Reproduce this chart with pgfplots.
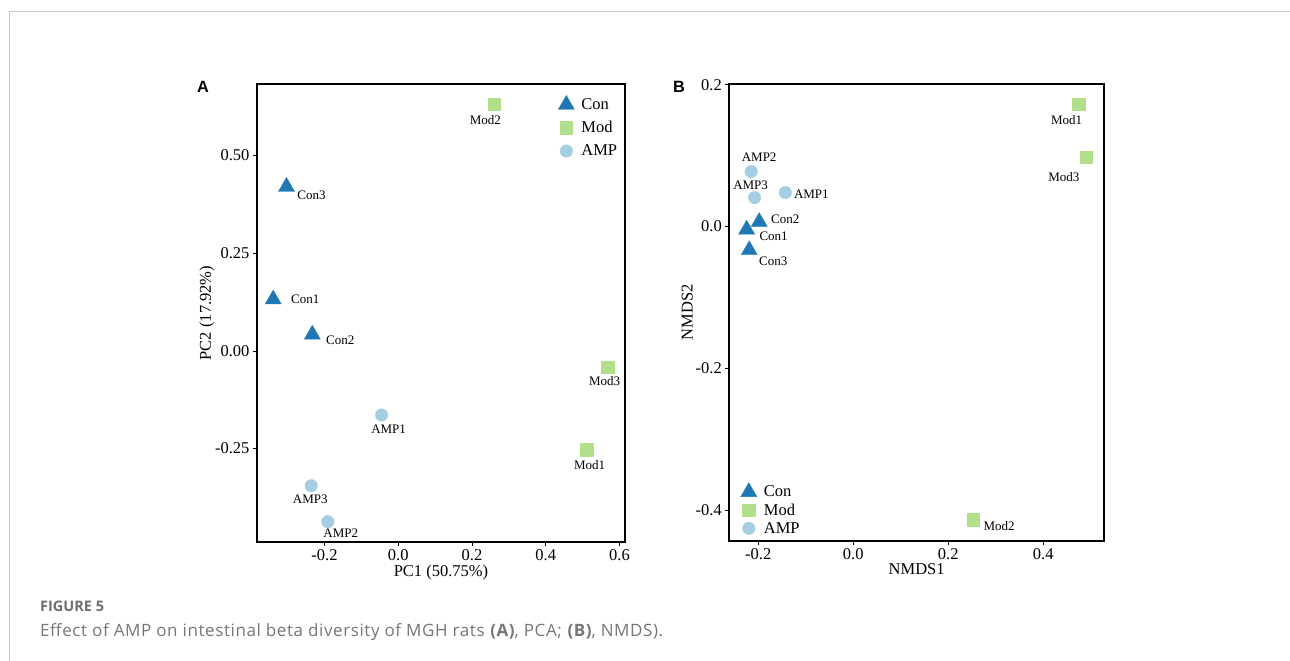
\documentclass[border=0pt]{standalone}
\usepackage{pgfplots}
\pgfplotsset{compat=1.18}
\usepackage{pgfplotstable}
\usepackage{fontspec}
\setmainfont{Liberation Serif}
\newfontfamily\capfont{Open Sans}
\newfontfamily\arialfont{Liberation Sans}
\definecolor{conc}{HTML}{1F78B4}
\definecolor{modc}{HTML}{B2DF8A}
\definecolor{ampc}{HTML}{A6CEE3}
\definecolor{framec}{RGB}{200,200,200}
\definecolor{capgray}{RGB}{110,110,110}
\definecolor{txtgray}{RGB}{118,118,118}
\newcommand\tickfont{\fontsize{16.5}{19}\selectfont}
\newcommand\legfont{\fontsize{16.5}{19}\selectfont}
\newcommand\ptfont{\fontsize{13}{15}\selectfont}

\pgfplotstableread{
x y label dx dy
-0.339 0.132 Con1 32 0
-0.233 0.042 Con2 28 -6
-0.303 0.420 Con3 25 -8
}\conA
\pgfplotstableread{
x y label dx dy
0.511 -0.253 Mod1 3 -15
0.2605 0.631 Mod2 -9 -16
0.568 -0.042 Mod3 -3 -14
}\modA
\pgfplotstableread{
x y label dx dy
-0.045 -0.164 AMP1 7 -14
-0.191 -0.437 AMP2 13 -12
-0.236 -0.345 AMP3 -1 -14
}\ampA
\pgfplotstableread{
x y label dx dy
-0.2245 -0.004 Con1 27 -7
-0.198 0.0066 Con2 26 3
-0.219 -0.033 Con3 24 -11
}\conB
\pgfplotstableread{
x y label dx dy
0.4745 0.1728 Mod1 -12 -16
0.2526 -0.413 Mod2 26 -6
0.490 0.0977 Mod3 -22 -20
}\modB
\pgfplotstableread{
x y label dx dy
-0.143 0.048 AMP1 26 -2
-0.215 0.0775 AMP2 8 14
-0.2077 0.041 AMP3 -4 12
}\ampB

\pgfplotsset{
  pcastyle/.style={
    scale only axis,
    clip=false,
    axis line style={line width=2.2pt},
    tick align=outside,
    xtick pos=bottom, ytick pos=left,
    major tick length=4pt,
    tick style={black, line width=0.8pt},
    ticklabel style={font=\tickfont},
    label style={font=\tickfont},
    legend cell align=left,
  },
  lbl/.style={
    only marks,
    point meta=explicit symbolic,
    nodes near coords={\pgfplotspointmeta},
    visualization depends on={\thisrow{dx} \as \mydx},
    visualization depends on={\thisrow{dy} \as \mydy},
    every node near coord/.append style={font=\ptfont, anchor=center, inner sep=0pt, xshift=\mydx pt, yshift=\mydy pt, text=black},
  },
  conm/.style={color=conc, mark=triangle*, mark size=9.3pt, mark options={solid, draw=conc, fill=conc, line width=0.3pt}},
  modm/.style={color=modc, mark=square*, mark size=6.2pt, mark options={solid, draw=modc, fill=modc, line width=0.3pt}},
  ampm/.style={color=ampc, mark=*, mark size=6.3pt, mark options={solid, draw=ampc, fill=ampc, line width=0.3pt}},
}

\begin{document}
\begin{tikzpicture}[x=1pt,y=1pt]
\useasboundingbox (0pt,0pt) rectangle (1290pt,661pt);
\draw[framec, line width=1pt] (9.3pt,0pt) -- (9.3pt,649.7pt) -- (1290pt,649.7pt);

\node[font=\arialfont\bfseries\fontsize{16.3}{19}\selectfont, anchor=base west, inner sep=0pt] at (197pt,568.3pt) {A};
\node[font=\arialfont\bfseries\fontsize{16.3}{19}\selectfont, anchor=base west, inner sep=0pt] at (673pt,568.3pt) {B};

\begin{axis}[pcastyle,
  at={(257pt,119pt)}, anchor=south west, width=368pt, height=458pt,
  xmin=-0.383, xmax=0.615, ymin=-0.489, ymax=0.683,
  xtick={-0.2,0,0.2,0.4,0.6}, xticklabels={-0.2,0.0,0.2,0.4,0.6},
  ytick={-0.25,0,0.25,0.5}, yticklabels={-0.25,0.00,0.25,0.50},
  xlabel={PC1 (50.75\%)}, ylabel={PC2 (17.92\%)},
  xlabel style={at={(axis description cs:0.5,-0.0677)}, anchor=center},
  ylabel style={at={(axis description cs:-0.136,0.5)}, anchor=center},
  legend style={draw=none, fill=none, font=\legfont, at={(0.81,0.98)}, anchor=north west, row sep=6.5pt,
    /tikz/every odd column/.append style={column sep=5pt}},
]
\addplot[lbl, conm] table[x=x, y=y, meta=label] {\conA};
\addlegendentry{Con}
\addplot[lbl, modm] table[x=x, y=y, meta=label] {\modA};
\addlegendentry{Mod}
\addplot[lbl, ampm] table[x=x, y=y, meta=label] {\ampA};
\addlegendentry{AMP}
\end{axis}

\begin{axis}[pcastyle,
  at={(729.3pt,120pt)}, anchor=south west, width=374.7pt, height=457pt,
  xmin=-0.261, xmax=0.528, ymin=-0.443, ymax=0.201,
  xtick={-0.2,0,0.2,0.4}, xticklabels={-0.2,0.0,0.2,0.4},
  ytick={-0.4,-0.2,0,0.2}, yticklabels={-0.4,-0.2,0.0,0.2},
  xlabel={NMDS1}, ylabel={NMDS2},
  xlabel style={at={(axis description cs:0.5,-0.0613)}, anchor=center},
  ylabel style={at={(axis description cs:-0.112,0.5)}, anchor=center},
  legend style={draw=none, fill=none, font=\legfont, at={(0.022,0.005)}, anchor=south west, row sep=1.5pt,
    /tikz/every odd column/.append style={column sep=5pt}},
]
\addplot[lbl, conm] table[x=x, y=y, meta=label] {\conB};
\addlegendentry{Con}
\addplot[lbl, modm] table[x=x, y=y, meta=label] {\modB};
\addlegendentry{Mod}
\addplot[lbl, ampm] table[x=x, y=y, meta=label] {\ampB};
\addlegendentry{AMP}
\end{axis}

\node[font=\capfont\bfseries\fontsize{14.5}{17}\selectfont, text=capgray, anchor=base west, inner sep=0pt] at (40pt,49.3pt) {FIGURE 5};
\node[font=\capfont\fontsize{17}{20}\selectfont\addfontfeature{LetterSpace=3.5}, text=txtgray, anchor=base west, inner sep=0pt] at (40pt,24.3pt) {Effect of AMP on intestinal beta diversity of MGH rats \textbf{(A)}, PCA; \textbf{(B)}, NMDS).};
\end{tikzpicture}
\end{document}
